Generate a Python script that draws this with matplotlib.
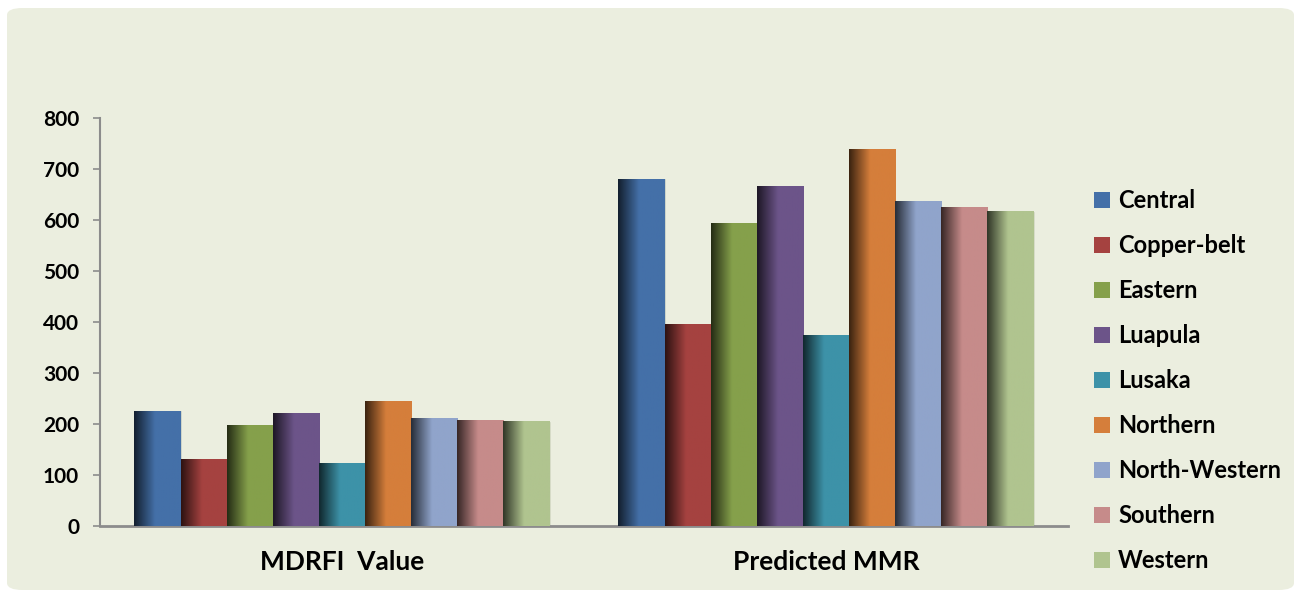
import matplotlib.pyplot as plt
import numpy as np
from matplotlib.colors import to_rgb
from matplotlib.patches import FancyBboxPatch, Patch

groups = ['MDRFI  Value', 'Predicted MMR']
provinces = ['Central', 'Copper-belt', 'Eastern', 'Luapula', 'Lusaka',
             'Northern', 'North-Western', 'Southern', 'Western']
mdrfi = [225, 131, 197, 221, 123, 245, 210, 207, 204]
mmr = [680, 395, 593, 665, 373, 739, 637, 625, 616]
colors = ['#4470A8', '#A54240', '#85A04B', '#6C5489', '#3D92A8',
          '#D57E3B', '#90A4CB', '#C68B8A', '#B0C48F']

plt.rcParams['font.family'] = ['Lato', 'DejaVu Sans']
plt.rcParams['font.weight'] = 'bold'

fig = plt.figure(figsize=(12.94, 5.9), dpi=100)
fig.patch.set_facecolor('white')
panel = FancyBboxPatch((7 / 1294, 0), 1 - 7 / 1294, 1 - 8 / 590,
                       boxstyle='round,pad=0,rounding_size=0.012',
                       transform=fig.transFigure, facecolor='#EBEEDF',
                       edgecolor='none', zorder=-5)
fig.patches.append(panel)

ax = fig.add_axes([100 / 1294, 1 - 526 / 590, 968 / 1294, 408 / 590])
ax.set_facecolor('none')
ax.set_zorder(1)

n = len(provinces)
width = 0.858 / n
x = np.arange(len(groups))
values = np.array([mdrfi, mmr]).T

# horizontal shading: dark on the left, full colour from ~45% across
ramp = np.linspace(0, 1, 64)
shade = np.clip(0.28 + 0.72 * ramp / 0.45, 0, 1)

for i, (name, col) in enumerate(zip(provinces, colors)):
    pos = x - 0.429 + width * (i + 0.5)
    bars = ax.bar(pos, values[i], width, color=col, edgecolor='#D8DCCB',
                  linewidth=0.6, zorder=2)
    rgb = np.array(to_rgb(col))
    img = (shade[:, None] * rgb[None, :])[None, :, :]
    for b in bars:
        x0, y0 = b.get_x(), b.get_y()
        ax.imshow(img, extent=(x0, x0 + b.get_width(), y0, y0 + b.get_height()),
                  aspect='auto', zorder=3, interpolation='bilinear')

ax.set_xlim(-0.5, 1.5)
ax.set_ylim(0, 800)
ax.set_yticks(range(0, 801, 100))
ax.set_xticks(x)
ax.set_xticklabels(groups, fontsize=19, fontweight='bold')
ax.tick_params(axis='x', length=0, pad=17)
ax.tick_params(axis='y', length=5, width=1.2, color='#8C8C8C', labelsize=15, pad=10)
for lab in ax.get_yticklabels():
    lab.set_fontweight('bold')

for side in ['top', 'right']:
    ax.spines[side].set_visible(False)
ax.spines['left'].set_color('#8C8C8C')
ax.spines['left'].set_linewidth(1.5)
ax.spines['bottom'].set_color('#8C8C8C')
ax.spines['bottom'].set_linewidth(2)

handles = [Patch(facecolor=c, edgecolor='none') for c in colors]
leg = fig.legend(handles, provinces, loc='upper left',
                 bbox_to_anchor=(1085 / 1294, 1 - 180 / 590),
                 frameon=False, fontsize=17, handlelength=0.65, handleheight=0.65,
                 handletextpad=0.35, labelspacing=0.93, borderaxespad=0)
for t in leg.get_texts():
    t.set_fontweight('bold')

fig.savefig('out.png', dpi=100, facecolor='white')
